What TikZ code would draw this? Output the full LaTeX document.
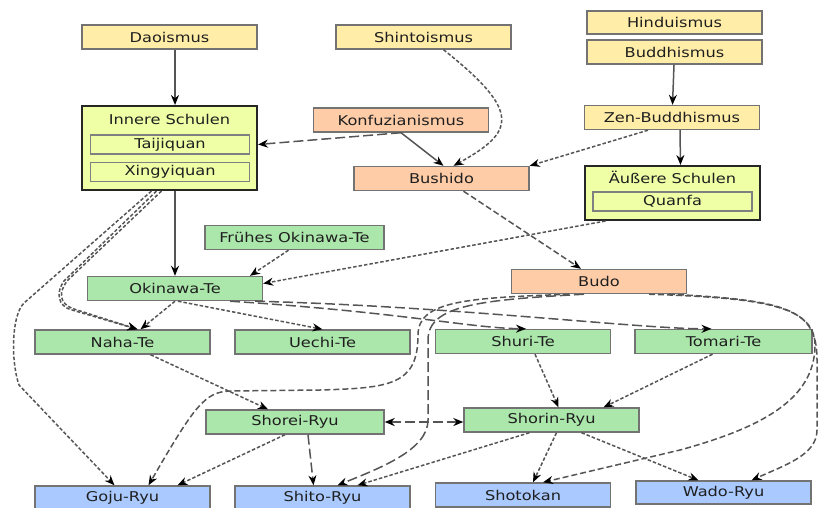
\documentclass[tikz,border=0pt]{standalone}
\usepackage{fontspec}
\setmainfont{DejaVu Sans}[FakeStretch=1.2]
\usepackage{xcolor}
\usepackage{tikz}
\usetikzlibrary{arrows.meta}

\definecolor{religfill}{HTML}{FFEDA8}
\definecolor{ethicfill}{HTML}{FFCCA8}
\definecolor{tefill}{HTML}{ABE6AB}
\definecolor{ryufill}{HTML}{A9C9FF}
\definecolor{schoolfill}{HTML}{EFFFA6}
\definecolor{linkgray}{HTML}{555555}

\begin{document}
\begin{tikzpicture}[x=1pt, y=-1pt, >={Stealth[length=10pt,width=8pt,color=black]},
    font=\fontsize{13.5}{15}\selectfont, text=black!88]
\tikzstyle{box}=[
    draw=black!55, line width=1.4pt,
    minimum width=175pt,
    minimum height=24pt,
    inner sep=0pt
]
\tikzstyle{relig}=[box, fill=religfill]
\tikzstyle{ethic}=[box, fill=ethicfill]
\tikzstyle{te}=[box, fill=tefill]
\tikzstyle{ryu}=[box, fill=ryufill]
\tikzstyle{school}=[box, fill=schoolfill, draw=black!85, line width=2pt]
\tikzstyle{sub}=[box, fill=schoolfill, draw=black!50, line width=1.1pt, minimum width=159pt, minimum height=19pt]
\tikzstyle{link}=[->, draw=linkgray, line width=1.5pt]
\tikzstyle{sd}=[link, dash pattern=on 3.5pt off 2pt]
\tikzstyle{md}=[link, dash pattern=on 6pt off 3pt]
\tikzstyle{ld}=[link, dash pattern=on 10pt off 4pt]

\useasboundingbox (0,0) rectangle (818,507);

% religions and ethics
\node[relig] (daoismus) at (169.5,37) {Daoismus};
\node[relig] (shintoismus) at (423.5,37) {Shintoismus};
\node[relig, minimum height=23pt] (hinduismus) at (674.5,22.5) {Hinduismus};
\node[relig] (buddhismus) at (674.5,52) {Buddhismus};
\node[relig] (zen) at (672,117.5) {Zen-Buddhismus};
\node[ethic] (konfuzianismus) at (401,120) {Konfuzianismus};
\node[ethic] (bushido) at (441.5,178.5) {Bushido};
\node[ethic] (budo) at (599,281.5) {Budo};

% chinese schools
\node[school, minimum height=84pt] (innere) at (169.5,148) {};
\node (innerelabel) at (169.5,119) {Innere Schulen};
\node[sub] (taijiquan) at (170,144.5) {Taijiquan};
\node[sub] (xingyiquan) at (170,172) {Xingyiquan};
\node[school, minimum height=54pt] (aeussere) at (672.5,193) {};
\node (aeusserelabel) at (672.5,177) {Äußere Schulen};
\node[sub] (quanfa) at (672.5,201.5) {Quanfa};

% okinawa
\node[te, minimum width=179pt] (fruehes) at (294.5,237.5) {Frühes Okinawa-Te};
\node[te] (okinawa) at (175,288.5) {Okinawa-Te};
\node[te] (naha) at (122.5,342) {Naha-Te};
\node[te] (uechi) at (322.5,342) {Uechi-Te};
\node[te] (shuri) at (523,341.5) {Shuri-Te};
\node[te, minimum width=177pt] (tomari) at (723.5,341.5) {Tomari-Te};
\node[te, minimum width=178pt] (shorei) at (295,422) {Shorei-Ryu};
\node[te] (shorin) at (551.5,420) {Shorin-Ryu};

% styles
\node[ryu] (goju) at (122.5,498) {Goju-Ryu};
\node[ryu] (shito) at (322.5,498) {Shito-Ryu};
\node[ryu] (shotokan) at (523,495) {Shotokan};
\node[ryu, minimum height=23pt] (wado) at (723.5,492.5) {Wado-Ryu};

\draw[link] (daoismus.south -| okinawa) -- (innere.north -| okinawa);
\draw[link] (buddhismus) -- (zen);
\draw[link] ([xshift=8pt]zen.south) -- ([xshift=8pt]aeussere.north);
\draw[link] (innere.south -| okinawa) -- (okinawa);

\draw[ld] (konfuzianismus.south) -- (innere.east |- taijiquan);
\draw[link] (konfuzianismus.south) -- ([xshift=2pt]bushido.north);
\draw[sd] ([xshift=20pt]shintoismus.south) .. controls (522,112) and (515,132) .. ([xshift=12pt]bushido.north);
\draw[sd] ([xshift=-24pt]zen.south) -- (bushido.north east);
\draw[md] ([xshift=22pt]bushido.south) -- ([xshift=-18pt]budo.north);

\draw[sd] ([xshift=-67pt]aeussere.south) -- ([yshift=5pt]okinawa.east);
\draw[sd] ([xshift=-6pt]fruehes.south) -- ([xshift=75pt]okinawa.north);
\draw[sd] (okinawa.south) -- ([xshift=18pt]naha.north);
\draw[sd] ([xshift=3pt]okinawa.south) -- (uechi.north);
\draw[ld] ([xshift=55pt]okinawa.south) .. controls (400,312) and (470,328) .. ([xshift=3pt]shuri.north);
\draw[ld] ([xshift=80pt]okinawa.south) .. controls (450,306) and (640,329) .. ([xshift=-12pt]tomari.north);

\draw[sd] ([xshift=-18pt]innere.south) -- (24,303) .. controls (11,316) and (11,362) .. (19,385) -- ([xshift=-8pt]goju.north);
\draw[sd] ([xshift=-13pt]innere.south) -- (64,281) .. controls (56,292) and (57,306) .. (72,310) -- ([xshift=15pt]naha.north);
\draw[sd] ([xshift=-8pt]innere.south) -- (68,280) .. controls (58,292) and (59,304) .. (74,309) -- ([xshift=15pt]naha.north);

\draw[sd] ([xshift=28pt]naha.south) -- ([xshift=-27pt]shorei.north);
\draw[sd] ([xshift=-10pt]shorei.south) -- ([xshift=55pt]goju.north);
\draw[ld] ([xshift=13pt]shorei.south) -- ([xshift=-9pt]shito.north);
\draw[ld, <->] (shorei.east) -- (shorei.east -| shorin.west);
\draw[sd] ([xshift=12pt]shuri.south) -- ([xshift=7pt]shorin.north);
\draw[sd] ([xshift=-11pt]tomari.south) -- ([xshift=52pt]shorin.north);
\draw[sd] ([xshift=-22pt]shorin.south) -- ([xshift=35pt]shito.north);
\draw[sd] ([xshift=5pt]shorin.south) -- ([xshift=10pt]shotokan.north);
\draw[sd] ([xshift=30pt]shorin.south) -- ([xshift=-25pt]wado.north);

\draw[md] ([xshift=-30pt]budo.south) .. controls (470,298) and (418,300) .. (418,335) .. controls (418,385) and (390,388) .. (320,390) -- (230,391) .. controls (205,392) and (195,405) .. ([xshift=26pt]goju.north);
\draw[ld] ([xshift=-15pt]budo.south) .. controls (480,300) and (428,305) .. (428,340) -- (428,420) .. controls (428,450) and (380,468) .. ([xshift=15pt]shito.north);
\draw[md] ([xshift=50pt]budo.south) .. controls (760,298) and (815,305) .. (815,345) .. controls (815,400) and (760,428) .. (680,450) -- ([xshift=20pt]shotokan.north);
\draw[md] ([xshift=70pt]budo.south) .. controls (790,300) and (817,310) .. (817,360) -- (817,430) .. controls (817,455) and (785,465) .. ([xshift=28pt]wado.north);
\end{tikzpicture}
\end{document}
